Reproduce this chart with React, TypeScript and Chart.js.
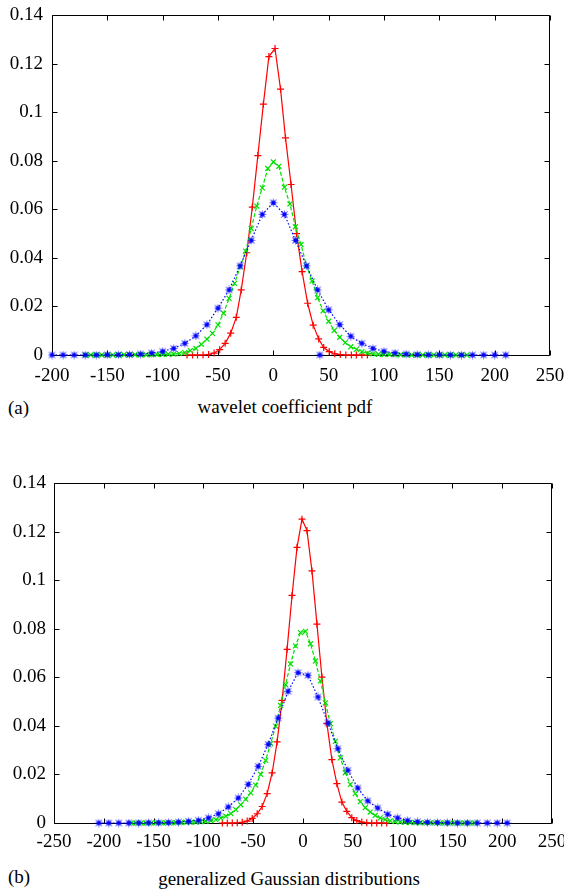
import React, { useEffect, useRef } from 'react';
import { Chart, registerables } from 'chart.js';
Chart.register(...registerables);

const FONT = "'Liberation Serif', 'Times New Roman', serif";

// ---------- panel (a): wavelet coefficient pdf ----------
const aXTicks = [-200, 250];
const aRedX = [-78, -73, -68.5, -63.5, -58.5, -53.5, -48.5, -43.5, -38.5, -33.5, -29, -24, -19, -14, -9, -4, 1.5, 6.5, 11, 16, 21, 26, 31, 36, 41, 45.5, 50.5, 55.5, 60.5, 65.5, 70.5, 75, 80, 85];
const aRedY = [0, 0, 0, 0, 0.0002, 0.0008, 0.0022, 0.0048, 0.009, 0.0155, 0.0268, 0.0421, 0.0609, 0.0821, 0.1033, 0.1229, 0.1262, 0.1095, 0.0894, 0.0702, 0.05, 0.0343, 0.0213, 0.0123, 0.0066, 0.0031, 0.0014, 0.0005, 0.0002, 0, 0, 0, 0, 0];
const aGreenX = [-170, -165, -160, -155, -150, -145, -140, -135, -130, -125, -120, -115, -110, -105, -100, -95, -90, -85, -80, -75, -70, -65, -60, -55, -50, -45, -40, -35, -30, -25, -20, -15, -10, -5, 0, 5, 10, 15, 20, 25, 30, 35, 40, 45, 50, 55, 60, 65, 70, 75, 80, 85, 90, 95, 100, 105, 110, 115, 120, 125, 130, 135, 140, 145, 150, 155, 160, 165, 170, 175];
const aGreenY = [0, 0, 0, 0, 0, 0, 0.0001, 0.0001, 0.0001, 0.0001, 0.0001, 0.0001, 0.0001, 0.0002, 0.0002, 0.0003, 0.0004, 0.0006, 0.001, 0.0018, 0.0027, 0.0044, 0.0065, 0.0089, 0.0124, 0.0172, 0.0233, 0.0295, 0.0363, 0.0428, 0.052, 0.0613, 0.0688, 0.0768, 0.0795, 0.0777, 0.0691, 0.0622, 0.0528, 0.0455, 0.0367, 0.0305, 0.0236, 0.0182, 0.0139, 0.0101, 0.0073, 0.0051, 0.0034, 0.0023, 0.0014, 0.0008, 0.0005, 0.0003, 0.0002, 0.0002, 0.0001, 0.0001, 0.0001, 0, 0, 0, 0, 0, 0, 0, 0, 0, 0, 0];
const aBlueX = [-200, -190, -180, -170, -160, -150, -140, -130, -120, -110, -100, -90, -80, -70, -60, -50, -40, -30, -20, -10, 0, 10, 20, 30, 40, 50, 60, 70, 80, 90, 100, 110, 120, 130, 140, 150, 160, 170, 180, 190, 200, 210];
const aBlueY = [0, 0, 0, 0, 0, 0.0001, 0.0001, 0.0002, 0.0004, 0.0008, 0.0015, 0.0027, 0.0048, 0.0079, 0.0125, 0.0193, 0.0268, 0.0367, 0.0472, 0.0579, 0.0627, 0.0579, 0.0472, 0.0367, 0.0268, 0.0186, 0.0125, 0.0077, 0.0048, 0.0027, 0.0015, 0.0008, 0.0004, 0.0002, 0.0001, 0.0001, 0, 0, 0, 0, 0, 0];
const aBlueStrayX = [42];
const aBlueStrayY = [0];

// ---------- panel (b): generalized Gaussian distributions ----------
const bXTicks = [-250, 250];
const bRedX = [-81, -76, -71, -66, -61, -56, -51, -46, -41, -36, -31, -26, -21, -16, -11, -6, -1, 4, 9, 14, 19, 24, 29, 34, 39, 44, 49, 54, 59, 64, 69, 74, 79, 84];
const bRedY = [0, 0, 0, 0.0001, 0.0003, 0.0008, 0.0019, 0.0038, 0.0068, 0.0121, 0.0206, 0.0334, 0.0505, 0.0715, 0.0937, 0.1135, 0.1251, 0.1204, 0.1038, 0.0819, 0.0601, 0.0409, 0.0261, 0.0162, 0.0086, 0.0048, 0.0022, 0.001, 0.0004, 0.0001, 0, 0, 0, 0];
const bGreenX = [-172.5, -167.5, -162.5, -157.5, -152.5, -147.5, -142.5, -137.5, -132.5, -127.5, -122.5, -117.5, -112.5, -107.5, -102.5, -97.5, -92.5, -87.5, -82.5, -77.5, -72.5, -67.5, -62.5, -57.5, -52.5, -47.5, -42.5, -37.5, -32.5, -27.5, -22.5, -17.5, -12.5, -7.5, -2.5, 2.5, 7.5, 12.5, 17.5, 22.5, 27.5, 32.5, 37.5, 42.5, 47.5, 52.5, 57.5, 62.5, 67.5, 72.5, 77.5, 82.5, 87.5, 92.5, 97.5, 102.5, 107.5, 112.5, 117.5, 122.5, 127.5, 132.5, 137.5, 142.5, 147.5, 152.5, 157.5, 162.5, 167.5, 172.5];
const bGreenY = [0, 0, 0, 0, 0, 0.0001, 0.0001, 0.0001, 0.0001, 0.0002, 0.0002, 0.0003, 0.0003, 0.0004, 0.0005, 0.0007, 0.001, 0.0014, 0.002, 0.0028, 0.0039, 0.0055, 0.0075, 0.0098, 0.0124, 0.0156, 0.02, 0.0258, 0.0327, 0.0399, 0.0484, 0.057, 0.0655, 0.0729, 0.0784, 0.0789, 0.0738, 0.0667, 0.0585, 0.0495, 0.0409, 0.0336, 0.0268, 0.0207, 0.0159, 0.0121, 0.0088, 0.0063, 0.0045, 0.0031, 0.0021, 0.0014, 0.0009, 0.0006, 0.0004, 0.0003, 0.0002, 0.0002, 0.0001, 0.0001, 0.0001, 0.0001, 0, 0, 0, 0, 0, 0, 0, 0];
const bBlueX = [-205, -195, -185, -175, -165, -155, -145, -135, -125, -115, -105, -95, -85, -75, -65, -55, -45, -35, -25, -15, -5, 5, 15, 25, 35, 45, 55, 65, 75, 85, 95, 105, 115, 125, 135, 145, 155, 165, 175, 185, 195, 205];
const bBlueY = [0, 0, 0, 0, 0, 0.0001, 0.0001, 0.0002, 0.0004, 0.0007, 0.0011, 0.0021, 0.0038, 0.0066, 0.0103, 0.0159, 0.0233, 0.0324, 0.0432, 0.0542, 0.0619, 0.0608, 0.0519, 0.0412, 0.0306, 0.0217, 0.0144, 0.0091, 0.0062, 0.0036, 0.0021, 0.001, 0.0005, 0.0003, 0.0002, 0.0001, 0, 0, 0, 0, 0, 0];

const yMin = 0;
const yMax = 0.14;
const yStep = 0.02;
const xStep = 50;

const RED = '#ff0000';
const GREEN = '#00e000';
const BLUE = '#0000ff';

const pts = (xs: number[], ys: number[]) => xs.map((x, i) => ({ x, y: ys[i] }));

// gnuplot-like "*" marker: asterisk strokes over a small filled square
function makeAsterisk(color: string): HTMLCanvasElement {
  const c = document.createElement('canvas');
  c.width = 9;
  c.height = 9;
  const g = c.getContext('2d')!;
  g.strokeStyle = color;
  g.fillStyle = color;
  g.lineWidth = 1.1;
  g.globalAlpha = 0.55;
  g.beginPath();
  g.moveTo(4.5, 0.5); g.lineTo(4.5, 8.5);
  g.moveTo(0.5, 4.5); g.lineTo(8.5, 4.5);
  g.moveTo(1.3, 1.3); g.lineTo(7.7, 7.7);
  g.moveTo(7.7, 1.3); g.lineTo(1.3, 7.7);
  g.stroke();
  g.globalAlpha = 1;
  g.fillRect(2.5, 2.5, 4, 4);
  return c;
}

const frameTicks = {
  id: 'frameTicks',
  beforeDatasetsDraw(chart: any) {
    const { ctx, chartArea: a, scales } = chart;
    const L = 5;
    const l = Math.round(a.left) + 0.5;
    const r = Math.round(a.right) - 0.5;
    const t = Math.round(a.top) + 0.5;
    const b = Math.round(a.bottom) + 0.5;
    ctx.save();
    ctx.strokeStyle = '#000';
    ctx.lineWidth = 1;
    ctx.beginPath();
    ctx.moveTo(l, t); ctx.lineTo(r, t); ctx.lineTo(r, b); ctx.lineTo(l, b); ctx.closePath();
    scales.x.ticks.forEach((tk: any) => {
      const px = Math.round(scales.x.getPixelForValue(tk.value)) + 0.5;
      ctx.moveTo(px, b); ctx.lineTo(px, b - L);
      ctx.moveTo(px, t); ctx.lineTo(px, t + L);
    });
    scales.y.ticks.forEach((tk: any) => {
      const py = Math.round(scales.y.getPixelForValue(tk.value)) + 0.5;
      ctx.moveTo(l, py); ctx.lineTo(l + L, py);
      ctx.moveTo(r, py); ctx.lineTo(r - L, py);
    });
    ctx.stroke();
    ctx.restore();
  },
};

function ds(xs: number[], ys: number[], color: string, style: any, dash: number[], line = true, radius = 3.5, pbw = 1.2) {
  return {
    data: pts(xs, ys),
    borderColor: color,
    backgroundColor: color,
    borderWidth: 1.2,
    borderDash: dash,
    pointStyle: style,
    pointRadius: radius,
    pointBorderWidth: pbw,
    pointBorderColor: color,
    pointBackgroundColor: color,
    showLine: line,
    tension: 0,
    fill: false,
    clip: false,
  };
}

function makeChart(canvas: HTMLCanvasElement, cfg: any) {
  return new Chart(canvas, {
    type: 'scatter',
    data: { datasets: cfg.datasets },
    options: {
      responsive: false,
      animation: false,
      devicePixelRatio: 1,
      events: [],
      layout: { padding: { left: 0, right: cfg.padRight, top: cfg.padTop, bottom: 0 } },
      plugins: { legend: { display: false }, tooltip: { enabled: false } },
      scales: {
        x: {
          type: 'linear',
          min: cfg.xTicks[0],
          max: cfg.xTicks[1],
          grid: { display: false, drawTicks: false },
          border: { display: false },
          ticks: {
            stepSize: xStep,
            padding: cfg.xPad,
            color: '#000',
            autoSkip: false,
            maxRotation: 0,
            font: { family: FONT, size: 19 },
            callback: (v: any) => String(v),
          },
          afterFit: (s: any) => {
            s.height = cfg.xHeight;
            s.paddingLeft = 0;
            s.paddingRight = 0;
          },
        },
        y: {
          type: 'linear',
          min: yMin,
          max: yMax,
          grid: { display: false, drawTicks: false },
          border: { display: false },
          ticks: {
            stepSize: yStep,
            padding: cfg.yPad,
            color: '#000',
            font: { family: FONT, size: 19 },
            callback: (v: any) => String(Math.round(v * 100) / 100),
          },
          afterFit: (s: any) => {
            s.width = cfg.yWidth;
            s.paddingTop = 0;
            s.paddingBottom = 0;
          },
        },
      },
    },
    plugins: [frameTicks],
  } as any);
}

export default function App() {
  const c1 = useRef<HTMLCanvasElement>(null);
  const c2 = useRef<HTMLCanvasElement>(null);

  useEffect(() => {
    const star = makeAsterisk(BLUE);
    const ch1 = makeChart(c1.current!, {
      xTicks: aXTicks,
      padRight: 14,
      padTop: 15,
      xHeight: 40,
      yWidth: 52,
      xPad: 10,
      yPad: 9,
      datasets: [
        ds(aBlueX, aBlueY, BLUE, star, [1.5, 2], true, 4, 1),
        ds(aBlueStrayX, aBlueStrayY, BLUE, star, [], false, 4, 1),
        ds(aGreenX, aGreenY, GREEN, 'crossRot', [4, 2]),
        ds(aRedX, aRedY, RED, 'cross', []),
      ],
    });
    const ch2 = makeChart(c2.current!, {
      xTicks: bXTicks,
      padRight: 12,
      padTop: 18,
      xHeight: 37,
      yWidth: 54,
      xPad: 8,
      yPad: 8,
      datasets: [
        ds(bBlueX, bBlueY, BLUE, star, [1.5, 2], true, 4, 1),
        ds(bGreenX, bGreenY, GREEN, 'crossRot', [4, 2]),
        ds(bRedX, bRedY, RED, 'cross', []),
      ],
    });
    return () => {
      ch1.destroy();
      ch2.destroy();
    };
  }, []);

  const txt: React.CSSProperties = {
    position: 'absolute',
    fontFamily: FONT,
    fontSize: 19,
    lineHeight: '19px',
    whiteSpace: 'nowrap',
    color: '#000',
  };

  return (
    <div style={{ position: 'absolute', left: 0, top: 0, width: 564, height: 891, background: '#fff', overflow: 'hidden' }}>
      <canvas ref={c1} width={564} height={395} style={{ position: 'absolute', left: 0, top: 0, width: 564, height: 395 }} />
      <canvas ref={c2} width={564} height={395} style={{ position: 'absolute', left: 0, top: 465, width: 564, height: 395 }} />
      <div style={{ ...txt, left: 8, top: 398 }}>(a)</div>
      <div style={{ ...txt, left: 285, top: 397, transform: 'translateX(-50%)' }}>wavelet coefficient pdf</div>
      <div style={{ ...txt, left: 8, top: 867 }}>(b)</div>
      <div style={{ ...txt, left: 289, top: 869, transform: 'translateX(-50%)' }}>generalized Gaussian distributions</div>
    </div>
  );
}
